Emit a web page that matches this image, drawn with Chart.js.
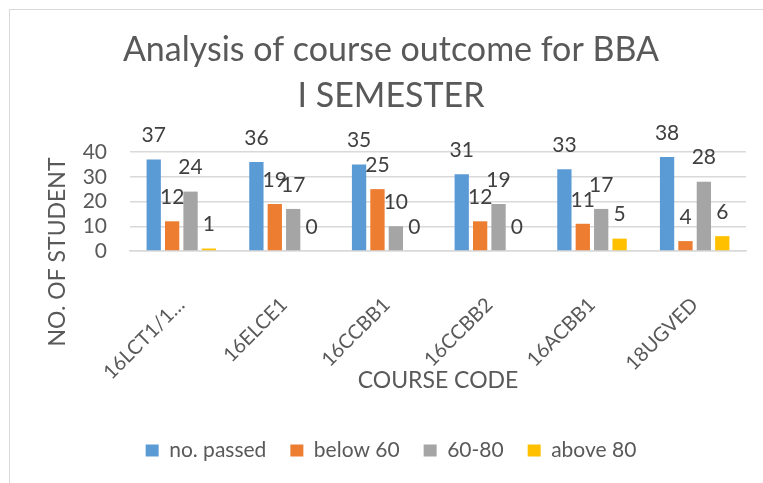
<!DOCTYPE html>
<html>
<head>
<meta charset="utf-8">
<title>Analysis of course outcome for BBA I SEMESTER</title>
<script src="https://cdn.jsdelivr.net/npm/chart.js@4"></script>
<style>
    html, body { margin: 0; padding: 0; background: #fff; overflow: hidden; }
    #frame { position: absolute; left: 9px; top: 9px; width: 780px; height: 490px; border: 1px solid #d9d9d9; }
    #box { position: absolute; left: 0; top: 0; width: 762px; height: 474px; }
</style>
</head>
<body>
<div id="frame"><div id="box"><canvas id="courseChart"></canvas></div></div>
<script>
const courses = ['16LCT1/1…', '16ELCE1', '16CCBB1', '16CCBB2', '16ACBB1', '18UGVED']
const passed = [37, 36, 35, 31, 33, 38]
const below60 = [12, 19, 25, 12, 11, 4]
const from60to80 = [24, 17, 10, 19, 17, 28]
const above80 = [1, 0, 0, 0, 5, 6]
const yTicks = [0, 10, 20, 30, 40]

const textColor = '#595959'
const font = 'Lato'

// value above every bar, like Excel "outside end" labels
const barValueLabels = {
    id: 'barValueLabels',
    afterDatasetsDraw(chart) {
        const ctx = chart.ctx
        ctx.save()
        ctx.font = '21px ' + font
        ctx.fillStyle = '#404040'
        ctx.textAlign = 'center'
        ctx.textBaseline = 'middle'
        chart.data.datasets.forEach((ds, i) => {
            chart.getDatasetMeta(i).data.forEach((bar, j) => {
                ctx.fillText(String(ds.data[j]), bar.x, bar.y - 24)
            })
        })
        ctx.restore()
    }
}

// y title centred over plot + label area, the way Excel places it
const yAxisTitle = {
    id: 'yAxisTitle',
    afterDraw(chart) {
        const ctx = chart.ctx
        ctx.save()
        ctx.font = '23px ' + font
        ctx.fillStyle = textColor
        ctx.textAlign = 'center'
        ctx.textBaseline = 'middle'
        ctx.translate(48, chart.chartArea.bottom + 1)
        ctx.rotate(-Math.PI / 2)
        ctx.fillText('NO. OF STUDENT', 0, 0)
        ctx.restore()
    }
}

new Chart(document.getElementById('courseChart'), {
    type: 'bar',
    data: {
        labels: courses,
        datasets: [
            { label: 'no. passed', data: passed, backgroundColor: '#5b9bd5' },
            { label: 'below 60', data: below60, backgroundColor: '#ed7d31' },
            { label: '60-80', data: from60to80, backgroundColor: '#a5a5a5' },
            { label: 'above 80', data: above80, backgroundColor: '#ffc000' }
        ]
    },
    plugins: [barValueLabels, yAxisTitle],
    options: {
        responsive: true,
        maintainAspectRatio: false,
        animation: false,
        layout: { padding: { left: 0, right: 0, top: 0, bottom: 13 } },
        datasets: {
            bar: { categoryPercentage: 0.717, barPercentage: 0.777 }
        },
        plugins: {
            title: {
                display: true,
                text: ['Analysis of course outcome for BBA', 'I SEMESTER'],
                color: textColor,
                font: { family: font, size: 34, weight: 'normal', lineHeight: 1.353 },
                padding: { top: 17, bottom: 33 }
            },
            legend: {
                position: 'bottom',
                labels: {
                    color: textColor,
                    font: { family: font, size: 21 },
                    boxWidth: 13,
                    boxHeight: 12,
                    padding: 24
                }
            },
            tooltip: { enabled: false }
        },
        scales: {
            x: {
                grid: { display: false },
                border: { display: true, color: '#d9d9d9', width: 1.5 },
                ticks: {
                    color: textColor,
                    font: { family: font, size: 20 },
                    minRotation: 45,
                    maxRotation: 45,
                    autoSkip: false,
                    padding: 34
                },
                title: {
                    display: true,
                    text: 'COURSE CODE',
                    color: textColor,
                    font: { family: font, size: 23 },
                    padding: { top: 0, bottom: 22 }
                },
                afterFit: scale => { scale.height = 165 }
            },
            y: {
                min: 0,
                max: 40,
                afterBuildTicks: scale => { scale.ticks = yTicks.map(v => ({ value: v })) },
                grid: { color: '#d9d9d9', lineWidth: 1.5, drawTicks: false },
                border: { display: false },
                ticks: {
                    color: textColor,
                    font: { family: font, size: 21 },
                    padding: 23,
                    autoSkip: false
                },
                afterFit: scale => { scale.width = 120 }
            },
            // empty right-hand gutter so title and legend stay centred on the whole chart
            gutter: {
                position: 'right',
                grid: { display: false },
                border: { display: false },
                ticks: { display: false },
                afterFit: scale => { scale.width = 26 }
            }
        }
    }
})
</script>
</body>
</html>
